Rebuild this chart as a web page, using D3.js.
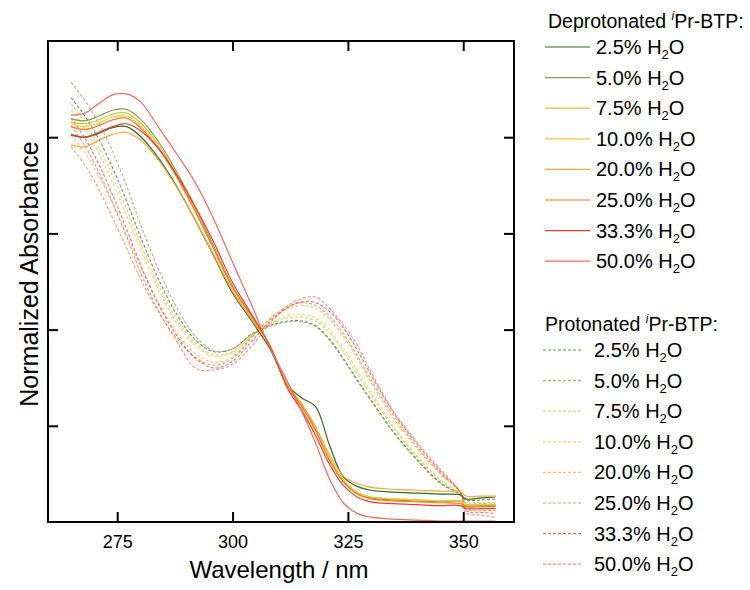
<!DOCTYPE html>
<html lang="en">
<head>
  <meta charset="UTF-8">
  <title>Normalized Absorbance</title>
  <style>
    body { margin: 0; background: #fff; }
    text { font-family: Arial, "Liberation Sans", sans-serif; fill: #000; }
  </style>
</head>
<body>
  <svg id="svg" width="750" height="590"></svg>
  <script src="https://cdn.jsdelivr.net/npm/d3@7"></script>
  <script>
    // wavelength grid (nm) shared by every spectrum
    const wavelengths = [265, 268, 271, 274, 277, 280, 284, 288, 292, 296, 300, 304, 308, 312, 315, 318, 321, 324, 327, 330, 335, 340, 345, 349.5, 350.5, 354, 357]

    const waterLabels = ['2.5', '5.0', '7.5', '10.0', '20.0', '25.0', '33.3', '50.0']
    const colors = ['#2f6e1e', '#8a9f45', '#c8c444', '#f2c62a', '#f4a93a', '#f27a26', '#ee3b30', '#f8675a']
    const xTicks = [275, 300, 325, 350]
    const yTicks = [1, 2, 3, 4]

    // deprotonated (solid)
    const dep2_5 = [4.03, 4.00, 4.04, 4.10, 4.11, 4.01, 3.78, 3.48, 3.13, 2.76, 2.38, 2.10, 1.81, 1.42, 1.29, 1.20, 0.80, 0.47, 0.37, 0.33, 0.31, 0.30, 0.29, 0.28, 0.24, 0.25, 0.26]
    const dep5_0 = [4.19, 4.17, 4.22, 4.28, 4.29, 4.19, 3.95, 3.63, 3.26, 2.86, 2.45, 2.15, 1.84, 1.42, 1.22, 0.96, 0.65, 0.42, 0.30, 0.25, 0.23, 0.22, 0.21, 0.21, 0.17, 0.17, 0.17]
    const dep7_5 = [4.16, 4.14, 4.18, 4.24, 4.25, 4.15, 3.92, 3.60, 3.24, 2.84, 2.44, 2.14, 1.84, 1.42, 1.22, 0.97, 0.66, 0.43, 0.30, 0.26, 0.24, 0.23, 0.22, 0.22, 0.18, 0.18, 0.18]
    const dep10_0 = [4.14, 4.11, 4.15, 4.21, 4.22, 4.12, 3.89, 3.58, 3.22, 2.83, 2.43, 2.14, 1.84, 1.42, 1.23, 0.98, 0.67, 0.44, 0.31, 0.26, 0.24, 0.23, 0.22, 0.21, 0.18, 0.18, 0.18]
    const dep20_0 = [3.92, 3.90, 3.97, 4.03, 4.05, 3.97, 3.76, 3.47, 3.13, 2.77, 2.40, 2.12, 1.83, 1.42, 1.22, 0.99, 0.70, 0.48, 0.40, 0.36, 0.34, 0.33, 0.32, 0.31, 0.27, 0.27, 0.27]
    const dep25_0 = [4.11, 4.08, 4.12, 4.18, 4.20, 4.10, 3.88, 3.58, 3.22, 2.83, 2.44, 2.15, 1.84, 1.40, 1.20, 0.95, 0.64, 0.42, 0.29, 0.24, 0.22, 0.21, 0.20, 0.19, 0.16, 0.16, 0.16]
    const dep33_3 = [4.02, 4.00, 4.05, 4.11, 4.14, 4.07, 3.88, 3.60, 3.27, 2.90, 2.49, 2.17, 1.84, 1.38, 1.16, 0.90, 0.60, 0.38, 0.26, 0.21, 0.19, 0.18, 0.17, 0.17, 0.14, 0.14, 0.14]
    const dep50_0 = [4.23, 4.25, 4.35, 4.44, 4.45, 4.37, 4.10, 3.82, 3.52, 3.14, 2.70, 2.27, 1.82, 1.45, 1.15, 0.82, 0.45, 0.20, 0.09, 0.05, 0.03, 0.02, 0.01, 0.01, 0.01, 0.01, 0.01]

    // protonated (dashed)
    const prot2_5 = [4.41, 4.22, 3.98, 3.68, 3.34, 2.97, 2.52, 2.15, 1.89, 1.77, 1.80, 1.95, 2.04, 2.09, 2.09, 2.04, 1.90, 1.70, 1.48, 1.27, 0.93, 0.65, 0.41, 0.28, 0.23, 0.23, 0.24]
    const prot5_0 = [4.57, 4.38, 4.15, 3.85, 3.50, 3.10, 2.62, 2.22, 1.93, 1.78, 1.80, 1.94, 2.03, 2.08, 2.08, 2.03, 1.89, 1.69, 1.47, 1.26, 0.92, 0.64, 0.40, 0.28, 0.20, 0.19, 0.19]
    const prot7_5 = [4.35, 4.15, 3.90, 3.60, 3.26, 2.90, 2.46, 2.10, 1.86, 1.74, 1.77, 1.93, 2.05, 2.12, 2.13, 2.09, 1.97, 1.77, 1.54, 1.32, 0.97, 0.67, 0.43, 0.28, 0.21, 0.20, 0.20]
    const prot10_0 = [4.28, 4.08, 3.83, 3.53, 3.19, 2.84, 2.41, 2.06, 1.83, 1.72, 1.76, 1.93, 2.06, 2.14, 2.16, 2.12, 2.00, 1.81, 1.58, 1.35, 0.99, 0.69, 0.44, 0.28, 0.18, 0.17, 0.17]
    const prot20_0 = [4.02, 3.84, 3.60, 3.31, 2.99, 2.66, 2.27, 1.96, 1.75, 1.66, 1.72, 1.92, 2.10, 2.22, 2.25, 2.22, 2.11, 1.93, 1.70, 1.45, 1.07, 0.76, 0.50, 0.30, 0.16, 0.14, 0.14]
    const prot25_0 = [3.90, 3.71, 3.46, 3.16, 2.85, 2.53, 2.18, 1.90, 1.71, 1.63, 1.70, 1.91, 2.11, 2.24, 2.28, 2.25, 2.14, 1.96, 1.73, 1.48, 1.10, 0.78, 0.51, 0.30, 0.14, 0.12, 0.12]
    const prot33_3 = [4.20, 3.99, 3.72, 3.40, 3.05, 2.68, 2.26, 1.93, 1.70, 1.60, 1.67, 1.87, 2.08, 2.23, 2.29, 2.28, 2.19, 2.02, 1.79, 1.53, 1.13, 0.81, 0.53, 0.30, 0.12, 0.10, 0.09]
    const prot50_0 = [4.12, 3.91, 3.64, 3.32, 2.97, 2.60, 2.19, 1.87, 1.60, 1.58, 1.64, 1.82, 2.06, 2.25, 2.32, 2.34, 2.22, 2.05, 1.84, 1.56, 1.14, 0.83, 0.55, 0.30, 0.10, 0.07, 0.05]

    const deprotonated = [dep2_5, dep5_0, dep7_5, dep10_0, dep20_0, dep25_0, dep33_3, dep50_0]
    const protonated = [prot2_5, prot5_0, prot7_5, prot10_0, prot20_0, prot25_0, prot33_3, prot50_0]

    const plot = { left: 48, right: 514, top: 41, bottom: 522 }

    const svg = d3.select('#svg')

    const x = d3.scaleLinear().domain([260, 361]).range([plot.left, plot.right])
    const y = d3.scaleLinear().domain([0, 5]).range([plot.bottom, plot.top])

    svg.append('clipPath').attr('id', 'clip')
      .append('rect')
      .attr('x', plot.left).attr('y', plot.top)
      .attr('width', plot.right - plot.left).attr('height', plot.bottom - plot.top)

    const line = d3.line()
      .x((d, i) => x(wavelengths[i]))
      .y(d => y(d))
      .curve(d3.curveCatmullRom.alpha(0.5))

    const curves = svg.append('g').attr('clip-path', 'url(#clip)')

    // dashed first, solid on top
    curves.selectAll('path.prot')
      .data(protonated)
      .enter()
      .append('path')
      .attr('class', 'prot')
      .attr('d', line)
      .attr('fill', 'none')
      .attr('stroke', (d, i) => colors[i])
      .attr('stroke-width', 1.1)
      .attr('stroke-opacity', 0.75)
      .attr('stroke-dasharray', '3,2')

    curves.selectAll('path.dep')
      .data(deprotonated)
      .enter()
      .append('path')
      .attr('class', 'dep')
      .attr('d', line)
      .attr('fill', 'none')
      .attr('stroke', (d, i) => colors[i])
      .attr('stroke-width', 1.2)

    // axes: inward ticks on all four sides
    const bottomAxis = d3.axisBottom(x).tickValues(xTicks).tickSize(-10).tickPadding(13)
    const topAxis = d3.axisTop(x).tickValues(xTicks).tickSize(-10).tickFormat('')
    const leftAxis = d3.axisLeft(y).tickValues(yTicks).tickSize(-10).tickFormat('')
    const rightAxis = d3.axisRight(y).tickValues(yTicks).tickSize(-10).tickFormat('')

    const styleAxis = g => {
      g.select('.domain').remove()
      g.selectAll('.tick line').attr('stroke', '#000').attr('stroke-width', 2)
      g.selectAll('.tick text').style('font-size', '18px').attr('fill', '#000')
        .style('font-family', 'Arial, "Liberation Sans", sans-serif')
    }

    svg.append('g').attr('transform', `translate(0, ${plot.bottom})`).call(bottomAxis).call(styleAxis)
    svg.append('g').attr('transform', `translate(0, ${plot.top})`).call(topAxis).call(styleAxis)
    svg.append('g').attr('transform', `translate(${plot.left}, 0)`).call(leftAxis).call(styleAxis)
    svg.append('g').attr('transform', `translate(${plot.right}, 0)`).call(rightAxis).call(styleAxis)

    svg.append('rect')
      .attr('x', plot.left).attr('y', plot.top)
      .attr('width', plot.right - plot.left).attr('height', plot.bottom - plot.top)
      .attr('fill', 'none').attr('stroke', '#000').attr('stroke-width', 2)

    // axis titles
    svg.append('text')
      .attr('x', 279)
      .attr('y', 578)
      .attr('text-anchor', 'middle')
      .style('font-size', '24px')
      .text('Wavelength / nm')

    svg.append('text')
      .attr('transform', `translate(38, 274) rotate(-90)`)
      .attr('text-anchor', 'middle')
      .style('font-size', '25px')
      .text('Normalized Absorbance')

    // legends
    function legendBlock(title, top, dashed, lineX0, lineX1, textX, titleX) {
      const g = svg.append('g')
      const t = g.append('text').attr('x', titleX).attr('y', top).style('font-size', '19.5px')
      t.append('tspan').text(title + ' ')
      t.append('tspan').attr('font-style', 'italic').style('font-size', '12px').attr('dy', -8).text('i')
      t.append('tspan').attr('dy', 8).text('Pr-BTP:')

      waterLabels.forEach((w, i) => {
        const cy = top + 19 + i * 30.6
        g.append('line')
          .attr('x1', lineX0).attr('x2', lineX1)
          .attr('y1', cy).attr('y2', cy)
          .attr('stroke', colors[i])
          .attr('stroke-width', 1.2)
          .attr('stroke-opacity', dashed ? 0.75 : 1)
          .attr('stroke-dasharray', dashed ? '3,2' : null)
        const lt = g.append('text').attr('x', textX).attr('y', cy + 7).style('font-size', '20px')
        lt.append('tspan').text(w + '% H')
        lt.append('tspan').attr('dy', 5).style('font-size', '13px').text('2')
        lt.append('tspan').attr('dy', -5).text('O')
      })
    }

    legendBlock('Deprotonated', 28, false, 545, 590, 596, 548)
    legendBlock('Protonated', 331, true, 543, 583, 594, 545)
  </script>
</body>
</html>
